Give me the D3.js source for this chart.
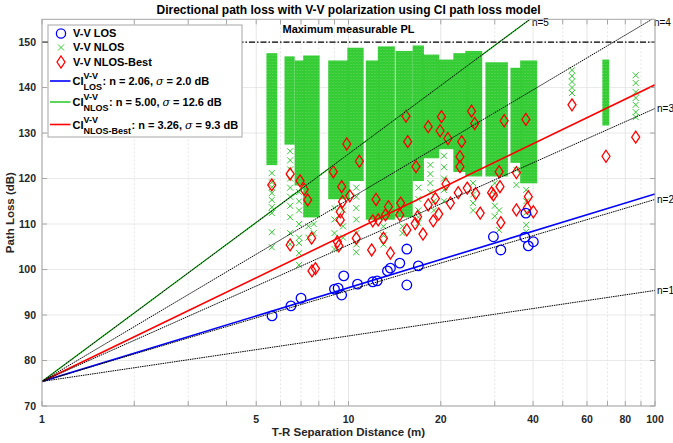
<!DOCTYPE html>
<html lang="en">
<head>
<meta charset="UTF-8">
<title>Directional path loss with V-V polarization</title>
<style>
  body { margin: 0; background: #fff; }
  svg text { font-family: "Liberation Sans", Arial, sans-serif; }
</style>
</head>
<body>
<div id="chart"></div>
<script src="https://d3js.org/d3.v7.min.js"></script>
<script>
// ---- data ----
// V-V LOS measurements [distance (m), path loss (dB)]
const losPts = [
  [5.63, 89.8], [6.49, 92.0], [7.0, 93.7], [9.0, 95.7], [9.25, 95.9], [9.5, 94.4],
  [9.65, 98.6], [10.7, 96.8], [12.0, 97.3], [12.4, 97.5], [13.4, 99.7], [13.7, 100.3],
  [14.7, 101.4], [15.5, 96.6], [15.5, 104.5], [16.9, 100.8], [29.7, 107.2], [31.4, 104.3],
  [37.9, 112.4], [37.6, 107.1], [40.1, 106.1], [38.6, 105.2]
];
// V-V NLOS-Best measurements
const bestPts = [
  [5.62, 118.6], [6.45, 121.0], [6.45, 105.4], [6.95, 119.5], [7.17, 117.6], [7.36, 115.3],
  [7.58, 106.9], [7.6, 99.7], [7.8, 100.2], [8.92, 121.5], [9.5, 118.2], [9.87, 127.6],
  [9.56, 114.9], [9.4, 112.7], [9.4, 110.9], [10.1, 116.2], [10.85, 123.8], [9.2, 106.1],
  [9.3, 105.2], [10.6, 106.9], [11.9, 104.3], [12.3, 115.4], [12.0, 110.7], [12.5, 110.9],
  [13.0, 106.9], [13.2, 112.0], [13.5, 113.8], [13.7, 103.6], [14.8, 114.6], [14.7, 112.0],
  [15.4, 133.7], [15.6, 128.1], [15.5, 108.7], [16.6, 122.6], [18.2, 131.4], [20.1, 133.6],
  [19.9, 130.5], [21.1, 128.8], [20.8, 118.8], [19.2, 115.6], [19.7, 112.2], [18.9, 110.7],
  [17.5, 107.8], [16.8, 111.6], [16.5, 110.1], [18.2, 114.2], [21.5, 114.6], [22.8, 116.9],
  [23.1, 122.6], [23.1, 124.8], [23.4, 128.1], [25.2, 134.8], [25.8, 132.1], [24.4, 117.9],
  [26.0, 116.7], [26.9, 112.4], [29.3, 116.9], [29.7, 116.4], [31.0, 121.5], [31.2, 118.2],
  [31.4, 110.3], [32.2, 132.7], [35.3, 121.3], [35.3, 113.1], [37.9, 133.0], [38.6, 116.0],
  [38.3, 113.5], [40.1, 112.7], [53.6, 136.2], [69.2, 124.9], [86.5, 129.1]
];
// V-V NLOS: dense clusters of crosses [d from, d to, PL top, PL bottom]
const nlosBands = [
  [5.5, 5.75, 147.0, 123.5], [6.3, 6.55, 146.3, 128.0], [6.8, 7.05, 145.4, 119.0],
  [7.25, 7.9, 146.5, 112.0], [8.75, 9.9, 145.4, 116.0], [10.1, 11.0, 148.2, 120.0],
  [11.6, 12.4, 145.4, 111.5], [12.7, 13.9, 148.5, 111.5], [14.5, 15.9, 147.5, 112.0],
  [16.5, 17.3, 148.7, 120.0], [17.7, 19.4, 146.7, 125.0], [19.9, 21.7, 145.6, 127.0],
  [22.4, 24.3, 147.0, 122.0], [24.5, 26.8, 147.5, 121.0], [28.5, 32.5, 145.0, 121.0],
  [34.4, 36.2, 143.8, 124.0], [37.0, 40.5, 145.4, 119.5], [68.6, 69.6, 145.6, 132.2]
];
// V-V NLOS: isolated crosses [d, PL]
const nlosPts = [
  [5.62, 121.2], [5.62, 119.2], [5.62, 118.1], [5.62, 116.8], [5.62, 115.3], [5.62, 113.7],
  [5.62, 112.4], [5.62, 108.2], [5.62, 104.9],
  [6.45, 126], [6.45, 124], [6.45, 122], [6.45, 120], [6.45, 118], [6.45, 116], [6.45, 114],
  [6.45, 111.5], [6.45, 108], [6.45, 105.6],
  [6.9, 117], [6.9, 115], [6.9, 113], [6.9, 110], [6.9, 107], [6.9, 105.8], [6.9, 103.6], [6.9, 101],
  [7.4, 109.5], [7.4, 107], [7.7, 110], [7.7, 108],
  [9.0, 113.5], [9.0, 111], [9.0, 108], [9.0, 104.5], [9.6, 113], [9.6, 109.5], [9.6, 107],
  [10.6, 118], [10.6, 116], [10.6, 113.5], [10.6, 111], [10.6, 108], [10.6, 105.5], [10.6, 103.8],
  [13.0, 109.5], [13.0, 107.5], [13.0, 105.5], [15.0, 109.5], [15.0, 108],
  [16.9, 118], [16.9, 115.5], [16.9, 113], [16.9, 111.5], [16.9, 110.2],
  [18.5, 123], [18.5, 121], [18.5, 119], [18.5, 117], [19.0, 115], [19.0, 113],
  [20.5, 125], [20.5, 122.5], [20.5, 120], [20.5, 117.5], [20.5, 115],
  [25.5, 119], [25.5, 116.5], [25.5, 114.6], [25.5, 113],
  [30, 119], [30, 116.5], [30, 114], [30, 111.7], [31, 113], [31, 108.7],
  [35.3, 121.9], [35.3, 118.6],
  [38, 117.5], [38, 115], [38, 112.5], [38, 109.8], [38, 108.3],
  [53.6, 143.8], [53.6, 142.5], [53.6, 141.3], [53.6, 140], [53.6, 138.8],
  [86.5, 142.7], [86.5, 141], [86.5, 139], [86.5, 137.7], [86.5, 136.2], [86.5, 134.6], [86.5, 133.5]
];
// CI model fits
const fitNames = ['LOS', 'NLOS', 'NLOS-Best'];
const fitN = [2.06, 5.00, 3.26];
const fitSigma = ['2.0', '12.6', '9.3'];
const fitColors = ['#0000ff', '#33cc33', '#ff0000'];
const refN = [1, 2, 3, 4, 5];
const pl0 = 75.4;      // free space PL at 1 m
const maxPL = 150;
const xTicks = [1, 2, 3, 4, 5, 6, 7, 8, 9, 10, 20, 30, 40, 50, 60, 70, 80, 90, 100];
const xTickLabels = [1, 5, 10, 20, 40, 60, 80, 100];
const yTicks = [70, 80, 90, 100, 110, 120, 130, 140, 150];

// ---- layout ----
const width = 673, height = 443;
const pL = 42, pR = 655, pT = 19.3, pB = 406;
const green = '#33cc33';

const svg = d3.select('#chart').append('svg')
  .attr('width', width).attr('height', height);

const x = d3.scaleLog().domain([1, 100]).range([pL, pR]);
const y = d3.scaleLinear().domain([70, 155]).range([pB, pT]);
const ci = (n, d) => pl0 + 10 * n * Math.log10(d);

const defs = svg.append('defs');
defs.append('clipPath').attr('id', 'plot')
  .append('rect').attr('x', pL).attr('y', pT).attr('width', pR - pL).attr('height', pB - pT);

// cross-hatch pattern for the dense NLOS clouds
const pat = defs.append('pattern').attr('id', 'xx')
  .attr('patternUnits', 'userSpaceOnUse').attr('width', 3).attr('height', 3);
pat.append('path').attr('d', 'M0,0L3,3M3,0L0,3').attr('stroke', green).attr('stroke-width', 1.7);

// grid
const grid = svg.append('g');
grid.selectAll('.gy').data(yTicks).join('line')
  .attr('x1', pL).attr('x2', pR).attr('y1', d => y(d)).attr('y2', d => y(d))
  .attr('stroke', '#e3e3e3').attr('stroke-width', 0.8);
grid.selectAll('.gx').data(xTicks).join('line')
  .attr('y1', pT).attr('y2', pB).attr('x1', d => x(d)).attr('x2', d => x(d))
  .attr('stroke', '#e0e0e0').attr('stroke-width', 0.8)
  .attr('stroke-dasharray', d => xTickLabels.includes(d) ? null : '2,2');

const plot = svg.append('g').attr('clip-path', 'url(#plot)');

// NLOS crosses
plot.append('g').selectAll('rect').data(nlosBands).join('rect')
  .attr('x', d => x(d[0]) - 2.5).attr('width', d => x(d[1]) - x(d[0]) + 5)
  .attr('y', d => y(d[2]) - 2.5).attr('height', d => y(d[3]) - y(d[2]) + 5)
  .attr('fill', 'url(#xx)');
const cross = 'M-3,-3L3,3M3,-3L-3,3';
plot.append('g').selectAll('path').data(nlosPts).join('path')
  .attr('transform', d => `translate(${x(d[0])},${y(d[1])})`)
  .attr('d', cross).attr('stroke', green).attr('stroke-width', 1).attr('fill', 'none');

// NLOS-Best diamonds
const diamond = 'M0,-6L4,0L0,6L-4,0Z';
plot.append('g').selectAll('path').data(bestPts).join('path')
  .attr('transform', d => `translate(${x(d[0])},${y(d[1])})`)
  .attr('d', diamond).attr('stroke', '#ff0000').attr('stroke-width', 1.3).attr('fill', 'none');

// LOS circles
plot.append('g').selectAll('circle').data(losPts).join('circle')
  .attr('cx', d => x(d[0])).attr('cy', d => y(d[1])).attr('r', 4.8)
  .attr('stroke', '#0000ff').attr('stroke-width', 1.3).attr('fill', 'none');

// CI fit lines
plot.append('g').selectAll('line').data(fitN).join('line')
  .attr('x1', x(1)).attr('y1', d => y(ci(d, 1)))
  .attr('x2', x(100)).attr('y2', d => y(ci(d, 100)))
  .attr('stroke', (d, i) => fitColors[i]).attr('stroke-width', (d, i) => i === 1 ? 1.3 : 1.6);

// reference n lines
plot.append('g').selectAll('line').data(refN).join('line')
  .attr('x1', x(1)).attr('y1', d => y(ci(d, 1)))
  .attr('x2', x(100)).attr('y2', d => y(ci(d, 100)))
  .attr('stroke', '#000').attr('stroke-width', 1).attr('stroke-dasharray', '1.5,0.8');

// maximum measurable PL
plot.append('line')
  .attr('x1', pL).attr('x2', pR).attr('y1', y(maxPL)).attr('y2', y(maxPL))
  .attr('stroke', '#000').attr('stroke-width', 1.3).attr('stroke-dasharray', '6,2,1.5,2');
svg.append('text').attr('x', x(10)).attr('y', y(maxPL) - 9)
  .attr('text-anchor', 'middle').attr('font-size', 11).attr('font-weight', 'bold')
  .text('Maximum measurable PL');

// n labels
svg.append('g').selectAll('text').data(refN).join('text')
  .each(function (n) {
    let d = 100, pl = ci(n, 100);
    if (pl > 155) { d = Math.pow(10, (155 - pl0) / (10 * n)); pl = 155; }
    d3.select(this).attr('x', x(d) + 2).attr('y', y(pl) + (pl === 155 ? 3 : 0));
  })
  .attr('dy', '0.35em').attr('font-size', 10).attr('fill', '#000')
  .text(n => 'n=' + n);

// axes box + ticks
const axisColor = '#a6a6a6';
svg.append('rect').attr('x', pL).attr('y', pT).attr('width', pR - pL).attr('height', pB - pT)
  .attr('fill', 'none').attr('stroke', axisColor).attr('stroke-width', 1);
const ticks = svg.append('g').attr('stroke', axisColor).attr('stroke-width', 1);
ticks.selectAll('.tb').data(xTicks).join('line')
  .attr('x1', d => x(d)).attr('x2', d => x(d)).attr('y1', pB).attr('y2', pB - 5);
ticks.selectAll('.tt').data(xTicks).join('line')
  .attr('x1', d => x(d)).attr('x2', d => x(d)).attr('y1', pT).attr('y2', pT + 5);
ticks.selectAll('.tl').data(yTicks).join('line')
  .attr('y1', d => y(d)).attr('y2', d => y(d)).attr('x1', pL).attr('x2', pL + 5);
ticks.selectAll('.tr').data(yTicks).join('line')
  .attr('y1', d => y(d)).attr('y2', d => y(d)).attr('x1', pR).attr('x2', pR - 5);

svg.append('g').selectAll('text').data(xTickLabels).join('text')
  .attr('x', d => x(d)).attr('y', pB + 17)
  .attr('text-anchor', 'middle').attr('font-size', 10.5).attr('font-weight', 'bold').attr('fill', '#262626')
  .text(d => d);
svg.append('g').selectAll('text').data(yTicks).join('text')
  .attr('x', pL - 6).attr('y', d => y(d)).attr('dy', '0.35em')
  .attr('text-anchor', 'end').attr('font-size', 10.5).attr('font-weight', 'bold').attr('fill', '#262626')
  .text(d => d);

svg.append('text').attr('x', (pL + pR) / 2).attr('y', 436)
  .attr('text-anchor', 'middle').attr('font-size', 11.5).attr('font-weight', 'bold').attr('fill', '#262626')
  .text('T-R Separation Distance (m)');
svg.append('text').attr('transform', `translate(14,${(pT + pB) / 2}) rotate(-90)`)
  .attr('text-anchor', 'middle').attr('font-size', 11.5).attr('font-weight', 'bold').attr('fill', '#262626')
  .text('Path Loss (dB)');
svg.append('text').attr('x', (pL + pR) / 2).attr('y', 14)
  .attr('text-anchor', 'middle').attr('font-size', 12).attr('font-weight', 'bold').attr('fill', '#000')
  .text('Directional path loss with V-V polarization using CI path loss model');

// legend
const lg = svg.append('g');
lg.append('rect').attr('x', 48).attr('y', 25).attr('width', 194).attr('height', 112)
  .attr('fill', '#fff').attr('stroke', axisColor).attr('stroke-width', 1);
const markerRows = [
  { label: 'V-V LOS', y: 33.5 },
  { label: 'V-V NLOS', y: 47.5 },
  { label: 'V-V NLOS-Best', y: 62 }
];
lg.append('circle').attr('cx', 61).attr('cy', markerRows[0].y).attr('r', 4.6)
  .attr('stroke', '#0000ff').attr('stroke-width', 1.3).attr('fill', 'none');
lg.append('path').attr('transform', `translate(61,${markerRows[1].y})`).attr('d', cross)
  .attr('stroke', green).attr('stroke-width', 1).attr('fill', 'none');
lg.append('path').attr('transform', `translate(61,${markerRows[2].y})`).attr('d', diamond)
  .attr('stroke', '#ff0000').attr('stroke-width', 1.3).attr('fill', 'none');
lg.selectAll('.ml').data(markerRows).join('text')
  .attr('x', 73).attr('y', d => d.y).attr('dy', '0.36em')
  .attr('font-size', 11).attr('font-weight', 'bold').attr('fill', '#000')
  .text(d => d.label);

const lineRows = [81, 102, 124.5];
fitN.forEach((n, i) => {
  const ly = lineRows[i];
  lg.append('line').attr('x1', 50).attr('x2', 70.5).attr('y1', ly).attr('y2', ly)
    .attr('stroke', fitColors[i]).attr('stroke-width', 1.6);
  const base = ly + 4;
  const t1 = lg.append('text').attr('x', 72.5).attr('y', base)
    .attr('font-size', 11).attr('font-weight', 'bold').text('CI');
  const w1 = t1.node().getComputedTextLength();
  const sup = lg.append('text').attr('x', 72.5 + w1).attr('y', base - 6)
    .attr('font-size', 9).attr('font-weight', 'bold').text('V-V');
  const sub = lg.append('text').attr('x', 72.5 + w1).attr('y', base + 5)
    .attr('font-size', 9).attr('font-weight', 'bold').text(fitNames[i]);
  const w2 = Math.max(sup.node().getComputedTextLength(), sub.node().getComputedTextLength());
  const t2 = lg.append('text').attr('x', 72.5 + w1 + w2 + 0.5).attr('y', base)
    .attr('font-size', 11).attr('font-weight', 'bold');
  t2.append('tspan').text(`: n = ${n.toFixed(2)}, `);
  t2.append('tspan').attr('font-style', 'italic').attr('font-weight', 'normal')
    .attr('font-family', '"DejaVu Serif", serif').text('σ');
  t2.append('tspan').text(` = ${fitSigma[i]} dB`);
});
</script>
</body>
</html>
